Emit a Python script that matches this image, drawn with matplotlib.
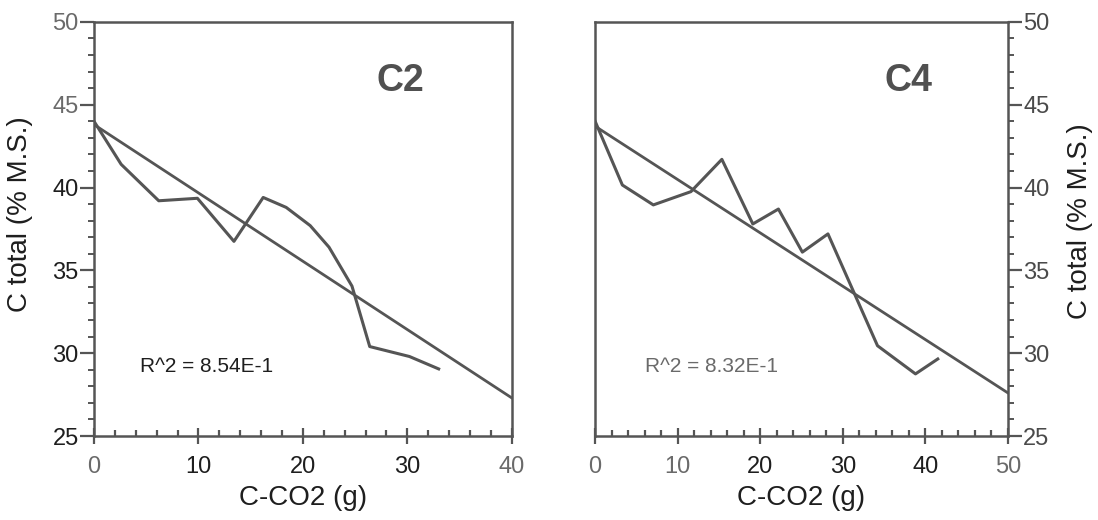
import matplotlib
matplotlib.use("Agg")
import matplotlib.pyplot as plt
from matplotlib.ticker import MultipleLocator

plt.rcParams['font.family'] = ['Liberation Sans', 'DejaVu Sans']

# ---- data ----
c2_x = [0, 2.6, 6.2, 9.9, 13.4, 16.2, 18.4, 20.7, 22.5, 24.7, 26.4, 30.2, 33.0]
c2_y = [44.0, 41.4, 39.2, 39.35, 36.75, 39.4, 38.8, 37.7, 36.4, 34.05, 30.4, 29.8, 29.05]
c2_fit_x = [0, 40]
c2_fit_y = [43.8, 27.3]

c4_x = [0, 3.3, 7.05, 11.6, 15.35, 19.1, 22.2, 25.1, 28.2, 34.2, 38.8, 41.5]
c4_y = [44.0, 40.15, 38.95, 39.75, 41.7, 37.8, 38.7, 36.1, 37.2, 30.45, 28.75, 29.65]
c4_fit_x = [0, 50]
c4_fit_y = [43.7, 27.6]

line_col = '#555555'
txt_col = '#1e1e1e'
grey_txt = '#6a6a6a'

fig = plt.figure(figsize=(10.98, 5.2), dpi=100)
ax1 = fig.add_axes([0.0856, 0.1615, 0.3805, 0.7965])
ax2 = fig.add_axes([0.542, 0.1615, 0.376, 0.7965])


def style(ax, xmax, side):
    ax.set_xlim(0, xmax)
    ax.set_ylim(25, 50)
    ax.xaxis.set_major_locator(MultipleLocator(10))
    ax.xaxis.set_minor_locator(MultipleLocator(2))
    ax.yaxis.set_major_locator(MultipleLocator(5))
    ax.yaxis.set_minor_locator(MultipleLocator(1))
    for s in ax.spines.values():
        s.set_color(line_col)
        s.set_linewidth(1.8)
    ax.tick_params(axis='x', which='major', direction='inout', length=11, width=1.6,
                   color=line_col, labelsize=17, labelcolor=txt_col, pad=9)
    ax.tick_params(axis='x', which='minor', direction='in', length=4, width=1.6,
                   color=line_col)
    if side == 'right':
        ax.yaxis.tick_right()
        ax.yaxis.set_label_position('right')
    ax.tick_params(axis='y', which='major', direction='out', length=10, width=1.6,
                   color=line_col, labelsize=17, labelcolor=txt_col, pad=1)
    ax.tick_params(axis='y', which='minor', direction='out', length=4, width=1.4,
                   color=line_col)
    ax.set_xlabel('C-CO2 (g)', fontsize=20, color=txt_col, labelpad=5)
    ax.set_ylabel('C total (% M.S.)', fontsize=20, color=txt_col)
    if side == 'right':
        ax.yaxis.set_label_coords(1.143, 0.52)
    else:
        ax.yaxis.set_label_coords(-0.145, 0.535)


style(ax1, 40, 'left')
style(ax2, 50, 'right')

ax1.plot(c2_fit_x, c2_fit_y, color=line_col, lw=2.0)
ax1.plot(c2_x, c2_y, color=line_col, lw=2.2)
ax1.text(29.3, 46.4, 'C2', fontsize=27, fontweight='bold', color='#505050',
         ha='center', va='center')
ax1.text(4.4, 29.2, 'R^2 = 8.54E-1', fontsize=15, color=txt_col, va='center')

ax2.plot(c4_fit_x, c4_fit_y, color=line_col, lw=2.0)
ax2.plot(c4_x, c4_y, color=line_col, lw=2.2)
ax2.text(38.0, 46.4, 'C4', fontsize=27, fontweight='bold', color='#505050',
         ha='center', va='center')
ax2.text(6.0, 29.2, 'R^2 = 8.32E-1', fontsize=15, color=grey_txt, va='center')

# scanned original: some tick labels come out lighter
fig.canvas.draw()
for lab in ax1.get_yticklabels():
    if lab.get_text() in ('50', '45'):
        lab.set_color(grey_txt)
for lab in ax1.get_xticklabels():
    if lab.get_text() in ('0', '40'):
        lab.set_color(grey_txt)
for lab in ax2.get_yticklabels():
    lab.set_color('#4a4a4a')
for lab in ax2.get_xticklabels():
    if lab.get_text() in ('0', '10', '50'):
        lab.set_color(grey_txt)

fig.savefig('out.png', dpi=100)
